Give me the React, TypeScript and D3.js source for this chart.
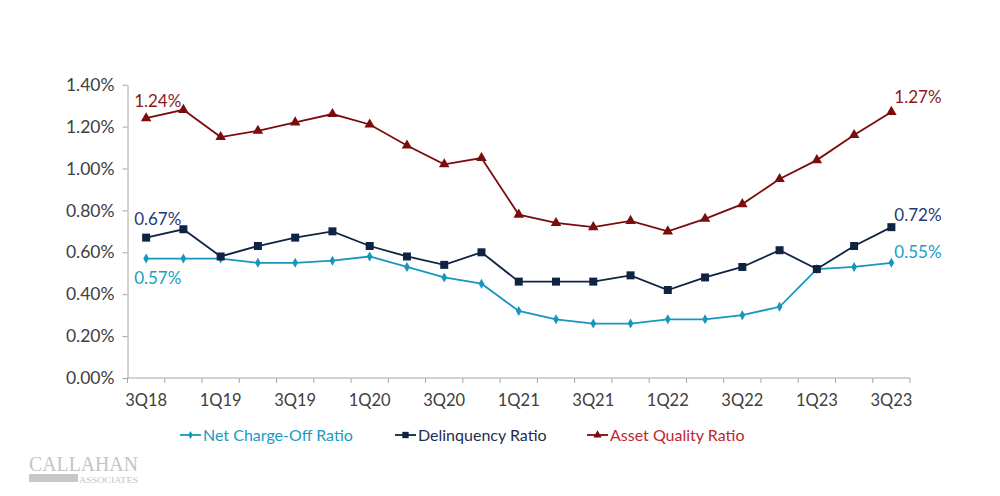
import React from 'react';
import * as d3 from 'd3';

const quarters = [
  '3Q18', '4Q18', '1Q19', '2Q19', '3Q19', '4Q19', '1Q20', '2Q20', '3Q20', '4Q20', '1Q21',
  '2Q21', '3Q21', '4Q21', '1Q22', '2Q22', '3Q22', '4Q22', '1Q23', '2Q23', '3Q23'
];
const netChargeOff = [0.57, 0.57, 0.57, 0.55, 0.55, 0.56, 0.58, 0.53, 0.48, 0.45, 0.32, 0.28, 0.26, 0.26, 0.28, 0.28, 0.30, 0.34, 0.52, 0.53, 0.55];
const delinquency = [0.67, 0.71, 0.58, 0.63, 0.67, 0.70, 0.63, 0.58, 0.54, 0.60, 0.46, 0.46, 0.46, 0.49, 0.42, 0.48, 0.53, 0.61, 0.52, 0.63, 0.72];
const assetQuality = [1.24, 1.28, 1.15, 1.18, 1.22, 1.26, 1.21, 1.11, 1.02, 1.05, 0.78, 0.74, 0.72, 0.75, 0.70, 0.76, 0.83, 0.95, 1.04, 1.16, 1.27];
const yTicks = [0, 0.2, 0.4, 0.6, 0.8, 1.0, 1.2, 1.4];

interface Series {
  name: string;
  values: number[];
  line: string;
  label: string;
  legendText: string;
  marker: 'diamond' | 'square' | 'triangle';
  firstDy: number;
  lastDy: number;
}

const series: Series[] = [
  { name: 'Net Charge-Off Ratio', values: netChargeOff, line: '#1797bf', label: '#1b9dc3', legendText: '#1a9bc2', marker: 'diamond', firstDy: 25, lastDy: -5 },
  { name: 'Delinquency Ratio', values: delinquency, line: '#0f2342', label: '#1f3a78', legendText: '#1f2d4d', marker: 'square', firstDy: -13, lastDy: -6 },
  { name: 'Asset Quality Ratio', values: assetQuality, line: '#7a0c0c', label: '#8b1a1a', legendText: '#c0262d', marker: 'triangle', firstDy: -11, lastDy: -9 }
];

const FONT = 'Lato, "Open Sans", sans-serif';

const App: React.FC = () => {
  const ref = React.useRef<SVGSVGElement>(null);

  React.useEffect(() => {
    const svg = d3.select(ref.current);
    svg.selectAll('*').remove();

    const left = 127.5;
    const right = 910;
    const bottom = 378;
    const top = 84.7;

    const x = d3.scaleBand<string>().domain(quarters).range([left, right]).padding(0);
    const y = d3.scaleLinear().domain([0, 1.4]).range([bottom, top]);
    const cx = (q: string) => (x(q) as number) + x.bandwidth() / 2;

    // y axis
    const yAxis = svg
      .append('g')
      .attr('transform', `translate(${left},0)`)
      .call(d3.axisLeft(y).tickValues(yTicks).tickSize(5).tickSizeOuter(0).tickPadding(8).tickFormat((d) => `${(+d).toFixed(2)}%`));
    yAxis.selectAll('path, line').attr('stroke', '#a6a6a6');
    yAxis.selectAll('text').attr('fill', '#404040').style('font-family', FONT).style('font-size', '17.5px');

    // x axis
    const xg = svg.append('g');
    xg.append('line').attr('x1', left).attr('x2', right).attr('y1', bottom).attr('y2', bottom).attr('stroke', '#a6a6a6');
    const bounds = quarters.map((q) => x(q) as number).concat([right]);
    xg.selectAll('line.tick')
      .data(bounds)
      .enter()
      .append('line')
      .attr('x1', (d) => d)
      .attr('x2', (d) => d)
      .attr('y1', bottom)
      .attr('y2', bottom + 5)
      .attr('stroke', '#a6a6a6');
    xg.selectAll('text')
      .data(quarters.filter((_, i) => i % 2 === 0))
      .enter()
      .append('text')
      .attr('x', (d) => cx(d))
      .attr('y', bottom + 28)
      .attr('text-anchor', 'middle')
      .attr('fill', '#404040')
      .style('font-family', FONT)
      .style('font-size', '16.5px')
      .text((d) => d);

    const markerPath = (m: string, s: number) => {
      if (m === 'diamond') return d3.symbol(d3.symbolDiamond, s * 0.45)();
      if (m === 'square') return d3.symbol(d3.symbolSquare, s)();
      return d3.symbol(d3.symbolTriangle, s * 0.75)();
    };

    series.forEach((s) => {
      const pts = s.values.map((v, i) => ({ q: quarters[i], v }));
      svg
        .append('path')
        .datum(pts)
        .attr('fill', 'none')
        .attr('stroke', s.line)
        .attr('stroke-width', 1.8)
        .attr('d', d3.line<{ q: string; v: number }>().x((d) => cx(d.q)).y((d) => y(d.v)));
      svg
        .selectAll(null)
        .data(pts)
        .enter()
        .append('path')
        .attr('transform', (d) => `translate(${cx(d.q)},${y(d.v)})`)
        .attr('d', markerPath(s.marker, 64) as string)
        .attr('fill', s.line);

      const first = pts[0];
      const last = pts[pts.length - 1];
      svg
        .append('text')
        .attr('x', cx(first.q) - 12)
        .attr('y', y(first.v) + s.firstDy)
        .attr('fill', s.label)
        .style('font-family', FONT)
        .style('font-size', '17px')
        .text(`${first.v.toFixed(2)}%`);
      svg
        .append('text')
        .attr('x', cx(last.q) + 3)
        .attr('y', y(last.v) + s.lastDy)
        .attr('fill', s.label)
        .style('font-family', FONT)
        .style('font-size', '17px')
        .text(`${last.v.toFixed(2)}%`);
    });

    // legend
    const legendX = [180, 395, 587];
    const ly = 435;
    series.forEach((s, i) => {
      const g = svg.append('g').attr('transform', `translate(${legendX[i]},${ly})`);
      g.append('line').attr('x1', 0).attr('x2', 21).attr('y1', 0).attr('y2', 0).attr('stroke', s.line).attr('stroke-width', 1.8);
      g.append('path').attr('transform', 'translate(10.5,0)').attr('d', markerPath(s.marker, 40) as string).attr('fill', s.line);
      g.append('text')
        .attr('x', 23)
        .attr('y', 5.5)
        .attr('fill', s.legendText)
        .style('font-family', FONT)
        .style('font-size', '16px')
        .text(s.name);
    });

    // logo
    const logo = svg.append('g').attr('transform', 'translate(29,471)');
    logo.append('text')
      .attr('x', 0)
      .attr('y', 0)
      .attr('fill', '#c4c4c4')
      .attr('textLength', 109)
      .attr('lengthAdjust', 'spacingAndGlyphs')
      .style('font-family', '"Liberation Serif", serif')
      .style('font-size', '20px')
      .text('CALLAHAN');
    logo.append('rect').attr('x', 0).attr('y', 3).attr('width', 49).attr('height', 8).attr('fill', '#c8c8c8');
    logo.append('text')
      .attr('x', 50)
      .attr('y', 12)
      .attr('fill', '#c4c4c4')
      .attr('textLength', 59)
      .attr('lengthAdjust', 'spacingAndGlyphs')
      .style('font-family', '"Liberation Serif", serif')
      .style('font-size', '8.5px')
      .text('ASSOCIATES');
  }, []);

  return (
    <svg ref={ref} width={1000} height={496} style={{ position: 'absolute', left: 0, top: 0, background: '#fff' }} />
  );
};

export default App;
